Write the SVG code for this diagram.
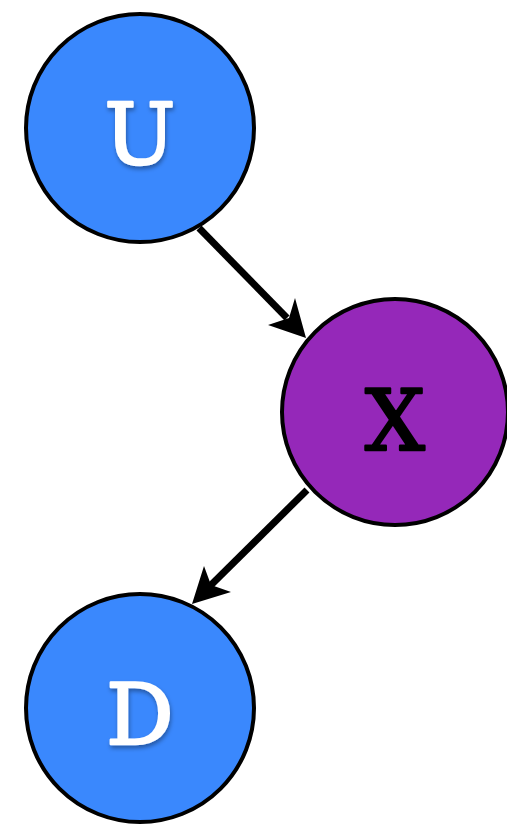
<svg xmlns="http://www.w3.org/2000/svg" width="507" height="824" viewBox="0 0 507 824">
<defs>
<style>
.node{stroke:#000;stroke-width:4}
.blue{fill:#3A88FD}
.purple{fill:#9528B9}
.lbl{font-family:"DejaVu Serif","Liberation Serif",serif;font-size:84px;text-anchor:middle;stroke-width:2.5;stroke-linejoin:round}
.w{fill:#fff;stroke:#fff;filter:url(#sh)}
.k{fill:#000;stroke:#000}
.edge{stroke:#000;stroke-width:7;fill:none}
</style>
<filter id="sh" x="-30%" y="-30%" width="160%" height="160%">
<feDropShadow dx="1" dy="3" stdDeviation="2" flood-color="#000" flood-opacity="0.35"/>
</filter>
</defs>
<g id="connectors">
<line class="edge" x1="199" y1="228" x2="287" y2="318"/>
<path d="M306,338 L268,325 L289,318 L295,298 Z" fill="#000"/>
<line class="edge" x1="307" y1="490" x2="210" y2="586"/>
<path d="M192,604 L204,566 L211,585 L231,592 Z" fill="#000"/>
</g>
<g id="U">
<circle class="node blue" cx="140" cy="128" r="114"/>
<text class="lbl w" x="140" y="164">U</text>
</g>
<g id="X">
<circle class="node purple" cx="395" cy="412" r="113"/>
<text class="lbl k" x="395" y="450">X</text>
</g>
<g id="D">
<circle class="node blue" cx="140" cy="708" r="114"/>
<text class="lbl w" x="140" y="744">D</text>
</g>
</svg>
